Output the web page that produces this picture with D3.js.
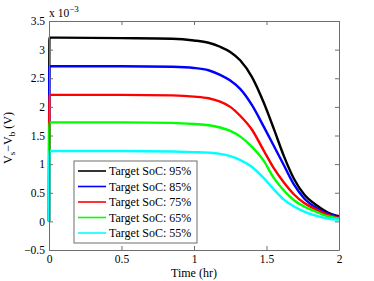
<!DOCTYPE html>
<html>
<head>
<meta charset="utf-8">
<script src="https://cdn.jsdelivr.net/npm/d3@7"></script>
<style>
  body { margin: 0; background: #fff; }
  text { font-family: "Liberation Serif", "Times New Roman", serif; fill: #000; }
</style>
</head>
<body>
<div id="chart"></div>
<script>
// time grid (hr), first two points give the jump at t = 0
const hours = [0, 0.003, 0.5, 0.85, 1.0, 1.1, 1.18, 1.25, 1.32, 1.40, 1.48, 1.55, 1.62, 1.69, 1.76, 1.84, 1.92, 2.0];

// Vs - Vb in units of 1e-3 V
const soc95 = [0, 3.21, 3.20, 3.19, 3.16, 3.12, 3.05, 2.96, 2.81, 2.52, 2.08, 1.62, 1.14, 0.74, 0.47, 0.29, 0.16, 0.09];
const soc85 = [0, 2.71, 2.71, 2.70, 2.68, 2.64, 2.56, 2.46, 2.31, 2.03, 1.66, 1.32, 0.98, 0.64, 0.40, 0.24, 0.14, 0.08];
const soc75 = [0, 2.21, 2.21, 2.20, 2.18, 2.15, 2.09, 2.00, 1.84, 1.60, 1.24, 0.93, 0.68, 0.47, 0.32, 0.21, 0.12, 0.06];
const soc65 = [0, 1.73, 1.73, 1.72, 1.70, 1.68, 1.64, 1.58, 1.48, 1.30, 1.06, 0.76, 0.54, 0.37, 0.26, 0.17, 0.09, 0.05];
const soc55 = [0, 1.23, 1.23, 1.22, 1.21, 1.20, 1.18, 1.14, 1.07, 0.95, 0.76, 0.56, 0.38, 0.26, 0.17, 0.10, 0.05, 0.03];

const seriesNames = ["Target SoC: 95%", "Target SoC: 85%", "Target SoC: 75%", "Target SoC: 65%", "Target SoC: 55%"];
const seriesValues = [soc95, soc85, soc75, soc65, soc55];
const seriesColors = ["#000000", "#0000ff", "#ff0000", "#00ff00", "#00ffff"];

const xTicks = [0, 0.5, 1, 1.5, 2];
const yTicks = [-0.5, 0, 0.5, 1, 1.5, 2, 2.5, 3, 3.5];

const width = 374, height = 281;
const m = {left: 49, right: 339, top: 21, bottom: 250};
const axisColor = "#6e6e6e";

const svg = d3.select("#chart").append("svg")
    .attr("width", width)
    .attr("height", height);

const x = d3.scaleLinear().domain([0, 2]).range([m.left, m.right]);
const y = d3.scaleLinear().domain([-0.5, 3.5]).range([m.bottom, m.top]);

function fmt(d) {
  return d < 0 ? "\u2212" + Math.abs(d) : String(d);
}

// series
const line = d3.line()
    .x(function(d) { return x(d[0]); })
    .y(function(d) { return y(d[1]); })
    .curve(d3.curveMonotoneX);

svg.append("g")
  .selectAll("path")
  .data(seriesValues)
  .enter().append("path")
    .attr("fill", "none")
    .attr("stroke", function(d, i) { return seriesColors[i]; })
    .attr("stroke-width", 2.4)
    .attr("stroke-linejoin", "round")
    .attr("d", function(vals) { return line(vals.map(function(v, i) { return [hours[i], v]; })); });

// axes, ticks point inward on all four sides
function styleAxis(g) {
  g.select(".domain").attr("stroke", axisColor);
  g.selectAll(".tick line").attr("stroke", axisColor);
  g.selectAll("text").attr("font-size", 11.5).attr("fill", "#000");
}

svg.append("g")
    .attr("transform", "translate(0," + m.bottom + ")")
    .call(d3.axisBottom(x).tickValues(xTicks).tickFormat(fmt).tickSizeInner(-4).tickSizeOuter(0).tickPadding(5))
    .call(styleAxis);

svg.append("g")
    .attr("transform", "translate(0," + m.top + ")")
    .call(d3.axisTop(x).tickValues(xTicks).tickFormat("").tickSizeInner(-4).tickSizeOuter(0))
    .call(styleAxis);

svg.append("g")
    .attr("transform", "translate(" + m.left + ",0)")
    .call(d3.axisLeft(y).tickValues(yTicks).tickFormat(fmt).tickSizeInner(-4).tickSizeOuter(0).tickPadding(4))
    .call(styleAxis);

svg.append("g")
    .attr("transform", "translate(" + m.right + ",0)")
    .call(d3.axisRight(y).tickValues(yTicks).tickFormat("").tickSizeInner(-4).tickSizeOuter(0))
    .call(styleAxis);

// exponent label
const expo = svg.append("text")
    .attr("x", m.left)
    .attr("y", 16.5)
    .attr("font-size", 11.5)
    .text("x 10");
expo.append("tspan")
    .attr("dy", -5)
    .attr("font-size", 9)
    .text("\u22123");

// axis titles
svg.append("text")
    .attr("x", (m.left + m.right) / 2)
    .attr("y", 276.5)
    .attr("text-anchor", "middle")
    .attr("font-size", 12)
    .text("Time (hr)");

const ylab = svg.append("text")
    .attr("transform", "translate(12,138) rotate(-90)")
    .attr("text-anchor", "middle")
    .attr("font-size", 12);
ylab.append("tspan").text("V");
ylab.append("tspan").attr("dy", 3).attr("font-size", 9).text("s");
ylab.append("tspan").attr("dy", -3).text("\u2212V");
ylab.append("tspan").attr("dy", 3).attr("font-size", 9).text("b");
ylab.append("tspan").attr("dy", -3).text(" (V)");

// legend
const legend = svg.append("g").attr("transform", "translate(74,161)");
legend.append("rect")
    .attr("width", 123)
    .attr("height", 82)
    .attr("fill", "#fff")
    .attr("stroke", axisColor);

const entry = legend.selectAll("g.entry")
    .data(seriesNames)
  .enter().append("g")
    .attr("class", "entry")
    .attr("transform", function(d, i) { return "translate(0," + (10 + i * 15.5) + ")"; });

entry.append("line")
    .attr("x1", 4).attr("x2", 32)
    .attr("stroke", function(d, i) { return seriesColors[i]; })
    .attr("stroke-width", 1.6);

entry.append("text")
    .attr("x", 35)
    .attr("dy", "0.35em")
    .attr("font-size", 12)
    .text(function(d) { return d; });
</script>
</body>
</html>
